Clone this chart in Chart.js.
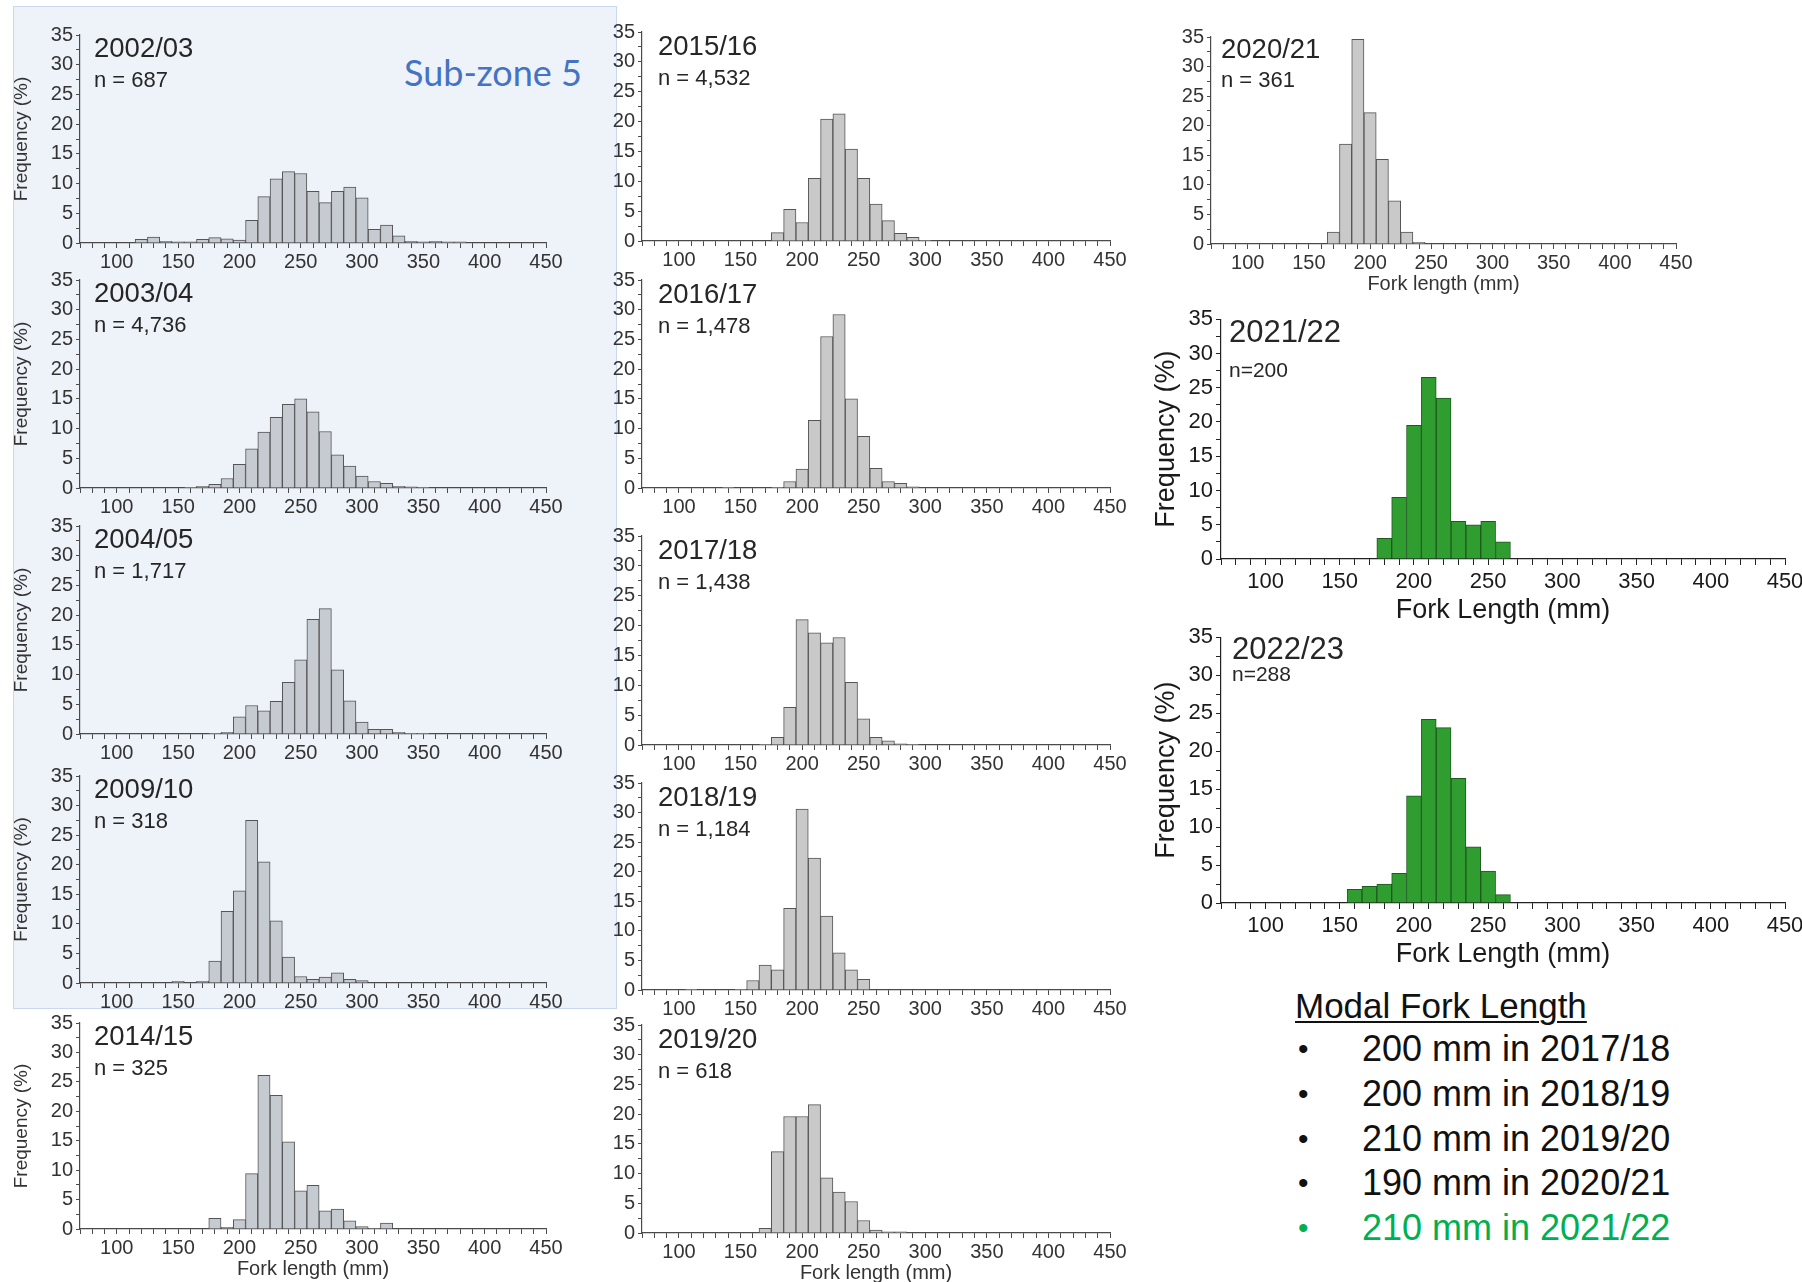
<!DOCTYPE html>
<html>
<head>
<meta charset="utf-8">
<title>Fork length frequency by season</title>
<script src="https://cdn.jsdelivr.net/npm/chart.js@4.4.0/dist/chart.umd.min.js"></script>
<style>
  html, body { margin: 0; padding: 0; background: #fff; overflow: hidden; }
  body { width: 1802px; height: 1282px; position: relative; font-family: 'Liberation Sans', Arial, sans-serif; }
  .zone-box { position: absolute; left: 13px; top: 6px; width: 604px; height: 1003px;
    background: #eef2f9; border: 1.5px solid #c9d8ee; box-sizing: border-box; }
  .zone-title { position: absolute; left: 404px; top: 54px; font: 36px Lato, 'Open Sans', sans-serif; color: #4472c4; line-height: 1; }
  .panel { position: absolute; }
  .lbl { position: absolute; white-space: nowrap; color: #262626; line-height: 1; z-index: 2; }
  .modal { position: absolute; left: 1295px; top: 988px; font-size: 36px; color: #111; line-height: 1; }
  .modal .head { text-decoration: underline; text-underline-offset: 3px; text-decoration-thickness: 2px; font-size: 35px; }
  .modal .row { position: absolute; left: 0; white-space: nowrap; }
  .modal .dot { position: absolute; left: 3px; font-size: 30px; top: 3px; }
  .modal .txt { position: absolute; left: 67px; }
  .modal .green { color: #00b050; }
</style>
</head>
<body>
<div class="zone-box"></div>
<div class="zone-title">Sub-zone 5</div>

<div class="modal">
  <div class="row head" style="top:0">Modal Fork Length</div>
  <div class="row" style="top:43px"><span class="dot">•</span><span class="txt">200 mm in 2017/18</span></div>
  <div class="row" style="top:88px"><span class="dot">•</span><span class="txt">200 mm in 2018/19</span></div>
  <div class="row" style="top:133px"><span class="dot">•</span><span class="txt">210 mm in 2019/20</span></div>
  <div class="row" style="top:177px"><span class="dot">•</span><span class="txt">190 mm in 2020/21</span></div>
  <div class="row green" style="top:222px"><span class="dot">•</span><span class="txt">210 mm in 2021/22</span></div>
</div>

<script>
// Fork length bins (centre of each 10 mm class)
const binCentres = [110, 120, 130, 140, 150, 160, 170, 180, 190, 200, 210, 220, 230, 240, 250,
                    260, 270, 280, 290, 300, 310, 320, 330, 340, 350, 360, 370, 380, 390];

// Frequency (%) per bin
const freq2002 = [0, 0.6, 1.0, 0.3, 0.2, 0.2, 0.6, 0.9, 0.7, 0.5, 3.8, 7.8, 10.8, 12.0, 11.7,
                  8.7, 6.8, 8.7, 9.4, 7.6, 2.3, 3.0, 1.2, 0.3, 0.2, 0.3, 0.2, 0.2, 0];
const freq2003 = [0, 0, 0, 0, 0, 0.1, 0.3, 0.6, 1.6, 4.0, 6.6, 9.4, 11.9, 14.1, 15.0,
                  12.8, 9.5, 5.6, 3.7, 2.0, 1.1, 0.8, 0.3, 0.2, 0.1, 0, 0, 0, 0];
const freq2004 = [0, 0, 0, 0, 0, 0, 0, 0.1, 0.3, 2.9, 4.8, 3.9, 5.5, 8.7, 12.5,
                  19.3, 21.1, 10.8, 5.6, 2.0, 0.8, 0.8, 0.3, 0.1, 0.1, 0, 0, 0, 0];
const freq2009 = [0, 0, 0, 0, 0.3, 0, 0.3, 3.7, 12.1, 15.6, 27.5, 20.5, 10.5, 4.4, 1.1,
                  0.6, 1.0, 1.7, 0.6, 0.4, 0, 0, 0, 0, 0, 0, 0, 0, 0];
const freq2014 = [0, 0, 0, 0, 0, 0, 0, 1.8, 0.3, 1.6, 9.4, 26.1, 22.7, 14.8, 6.5,
                  7.4, 3.1, 3.4, 1.4, 0.4, 0.1, 1.0, 0, 0, 0, 0, 0, 0, 0];
const freq2015 = [0, 0, 0, 0, 0, 0, 0, 1.4, 5.3, 3.1, 10.5, 20.4, 21.3, 15.4, 10.5,
                  6.2, 3.4, 1.3, 0.6, 0.1, 0, 0, 0, 0, 0, 0, 0, 0, 0];
const freq2016 = [0, 0, 0, 0.1, 0, 0, 0, 0.1, 1.1, 3.2, 11.4, 25.5, 29.2, 15.0, 8.7,
                  3.3, 1.1, 0.8, 0.2, 0, 0, 0, 0, 0, 0, 0, 0, 0, 0];
const freq2017 = [0, 0, 0, 0, 0, 0, 0.1, 1.3, 6.3, 21.0, 18.8, 17.1, 18.0, 10.5, 4.4,
                  1.3, 0.7, 0.2, 0.1, 0, 0, 0, 0, 0, 0, 0, 0, 0, 0];
const freq2018 = [0.1, 0, 0, 0, 0.1, 1.6, 4.2, 3.4, 13.8, 30.6, 22.3, 12.5, 6.3, 3.4, 1.8,
                  0, 0, 0, 0, 0, 0, 0, 0, 0, 0, 0, 0, 0, 0];
const freq2019 = [0, 0, 0, 0, 0, 0, 0.8, 13.7, 19.6, 19.6, 21.6, 9.3, 6.9, 5.3, 2.1,
                  0.5, 0.2, 0.2, 0, 0, 0, 0, 0, 0, 0, 0, 0, 0, 0];
const freq2020 = [0, 0, 0, 0, 0, 0, 2.0, 16.9, 34.6, 22.2, 14.3, 7.3, 2.0, 0.3, 0,
                  0, 0, 0, 0, 0, 0, 0, 0, 0, 0, 0, 0, 0, 0];
const freq2021 = [0, 0, 0, 0, 0, 0, 0, 3.0, 9.0, 19.5, 26.5, 23.5, 5.5, 5.0, 5.5,
                  2.5, 0, 0, 0, 0, 0, 0, 0, 0, 0, 0, 0, 0, 0];
const freq2022 = [0, 0, 0, 0, 0, 1.8, 2.2, 2.5, 3.9, 14.1, 24.2, 23.1, 16.4, 7.4, 4.2,
                  1.1, 0, 0, 0, 0, 0, 0, 0, 0, 0, 0, 0, 0, 0];

const seasonLabels = ['2002/03', '2003/04', '2004/05', '2009/10', '2014/15',
                      '2015/16', '2016/17', '2017/18', '2018/19', '2019/20',
                      '2020/21', '2021/22', '2022/23'];
const sampleSizes = ['n = 687', 'n = 4,736', 'n = 1,717', 'n = 318', 'n = 325',
                     'n = 4,532', 'n = 1,478', 'n = 1,438', 'n = 1,184', 'n = 618',
                     'n = 361', 'n=200', 'n=288'];
const seasonFreqs = [freq2002, freq2003, freq2004, freq2009, freq2014,
                     freq2015, freq2016, freq2017, freq2018, freq2019,
                     freq2020, freq2021, freq2022];

const xTicks = [100, 150, 200, 250, 300, 350, 400, 450];
const yTicks = [0, 5, 10, 15, 20, 25, 30, 35];

// Panel placement: plot area edges in page pixels
const layout = [
  { L: 80, R: 546, T: 35, B: 243, yW: 80, look: 'left', dx: 14, yearDy: 13, nDy: 45 },
  { L: 80, R: 546, T: 280, B: 488, yW: 80, look: 'left', dx: 14, yearDy: 13, nDy: 45 },
  { L: 80, R: 546, T: 526, B: 734, yW: 80, look: 'left', dx: 14, yearDy: 13, nDy: 45 },
  { L: 80, R: 546, T: 776, B: 983, yW: 80, look: 'left', dx: 14, yearDy: 13, nDy: 45 },
  { L: 80, R: 546, T: 1023, B: 1229, yW: 80, look: 'left', dx: 14, yearDy: 13, nDy: 45, xTitle: 'Fork length (mm)' },
  { L: 642, R: 1110, T: 32, B: 241, yW: 45, look: 'mid', dx: 16, yearDy: 14, nDy: 46 },
  { L: 642, R: 1110, T: 280, B: 488, yW: 45, look: 'mid', dx: 16, yearDy: 14, nDy: 46 },
  { L: 642, R: 1110, T: 536, B: 745, yW: 45, look: 'mid', dx: 16, yearDy: 14, nDy: 46 },
  { L: 642, R: 1110, T: 783, B: 990, yW: 45, look: 'mid', dx: 16, yearDy: 14, nDy: 46 },
  { L: 642, R: 1110, T: 1025, B: 1233, yW: 45, look: 'mid', dx: 16, yearDy: 14, nDy: 46, xTitle: 'Fork length (mm)' },
  { L: 1211, R: 1676, T: 37, B: 244, yW: 50, look: 'mid', dx: 10, yearDy: 12, nDy: 43, xTitle: 'Fork length (mm)' },
  { L: 1221, R: 1785, T: 319, B: 559, yW: 80, look: 'green', dx: 8, yearDy: 12, nDy: 50, xTitle: 'Fork Length (mm)' },
  { L: 1221, R: 1785, T: 637, B: 903, yW: 80, look: 'green', dx: 11, yearDy: 11, nDy: 36, xTitle: 'Fork Length (mm)' }
];

const looks = {
  left:  { fill: '#c6cad1', edge: '#555', axis: '#4a4a4a', text: '#333', tick: 20, title: 19, xTitleSize: 20, yTitle: true,
           year: 27.5, n: 22, xH: 30, xHT: 54, padR: 28, tickLen: 5, tickPad: 2, yTitlePad: 10 },
  mid:   { fill: '#c9c9c9', edge: '#555', axis: '#4a4a4a', text: '#333', tick: 20, title: 19, xTitleSize: 20, yTitle: false,
           year: 27.5, n: 22, xH: 30, xHT: 54, padR: 28, tickLen: 5, tickPad: 2, yTitlePad: 10 },
  green: { fill: '#2f9d2f', edge: '#1f5a1f', axis: '#222', text: '#1a1a1a', tick: 22, title: 27, xTitleSize: 27, yTitle: true,
           year: 31, n: 21, xH: 36, xHT: 70, padR: 32, tickLen: 6, tickPad: 4, yTitlePad: 9 }
};

const PAD_TOP = 16;

Chart.defaults.font.family = "'Liberation Sans', Arial, sans-serif";
Chart.defaults.animation = false;

function addLabel(text, x, yCentre, size) {
  const d = document.createElement('div');
  d.className = 'lbl';
  d.textContent = text;
  d.style.left = x + 'px';
  d.style.top = (yCentre - size / 2) + 'px';
  d.style.fontSize = size + 'px';
  document.body.appendChild(d);
}

layout.forEach(function(p, i) {
  const lk = looks[p.look];
  const xH = p.xTitle ? lk.xHT : lk.xH;
  const wrap = document.createElement('div');
  wrap.className = 'panel';
  wrap.style.left = (p.L - p.yW) + 'px';
  wrap.style.top = (p.T - PAD_TOP) + 'px';
  wrap.style.width = (p.yW + (p.R - p.L) + lk.padR) + 'px';
  wrap.style.height = (PAD_TOP + (p.B - p.T) + xH) + 'px';
  const canvas = document.createElement('canvas');
  wrap.appendChild(canvas);
  document.body.appendChild(wrap);

  new Chart(canvas, {
    type: 'bar',
    data: {
      datasets: [{
        data: binCentres.map(function(x, j) { return { x: x, y: seasonFreqs[i][j] }; }),
        backgroundColor: lk.fill,
        borderColor: lk.edge,
        borderWidth: 1,
        barPercentage: 1,
        categoryPercentage: 1
      }]
    },
    options: {
      responsive: true,
      maintainAspectRatio: false,
      animation: false,
      events: [],
      layout: { padding: { left: 0, top: PAD_TOP, right: lk.padR, bottom: 0 } },
      plugins: { legend: { display: false }, tooltip: { enabled: false } },
      scales: {
        x: {
          type: 'linear',
          min: 70,
          max: 450,
          offset: false,
          afterFit: function(scale) { scale.height = xH; },
          grid: { offset: false, drawOnChartArea: false, drawTicks: true, tickLength: lk.tickLen, color: lk.axis },
          border: { display: true, color: lk.axis, width: 1.2 },
          ticks: {
            stepSize: 10,
            autoSkip: false,
            maxRotation: 0,
            minRotation: 0,
            padding: lk.tickPad,
            color: lk.text,
            font: { size: lk.tick },
            callback: function(v) { return xTicks.indexOf(v) >= 0 ? String(v) : ''; }
          },
          title: {
            display: !!p.xTitle,
            text: p.xTitle || '',
            color: lk.text,
            font: { size: lk.xTitleSize },
            padding: { top: 0, bottom: 2 }
          }
        },
        y: {
          min: 0,
          max: 35,
          afterFit: function(scale) { scale.width = p.yW; },
          grid: { drawOnChartArea: false, drawTicks: true, tickLength: lk.tickLen - 1, color: lk.axis },
          border: { display: true, color: lk.axis, width: 1.2 },
          ticks: {
            stepSize: 2.5,
            autoSkip: false,
            padding: 3,
            color: lk.text,
            font: { size: lk.tick },
            callback: function(v) { return yTicks.indexOf(v) >= 0 ? String(v) : ''; }
          },
          title: {
            display: lk.yTitle,
            text: 'Frequency (%)',
            color: lk.text,
            font: { size: lk.title },
            padding: { top: lk.yTitlePad, bottom: 0 }
          }
        }
      }
    }
  });

  addLabel(seasonLabels[i], p.L + p.dx, p.T + p.yearDy, lk.year);
  addLabel(sampleSizes[i], p.L + p.dx, p.T + p.nDy, lk.n);
});
</script>
</body>
</html>
